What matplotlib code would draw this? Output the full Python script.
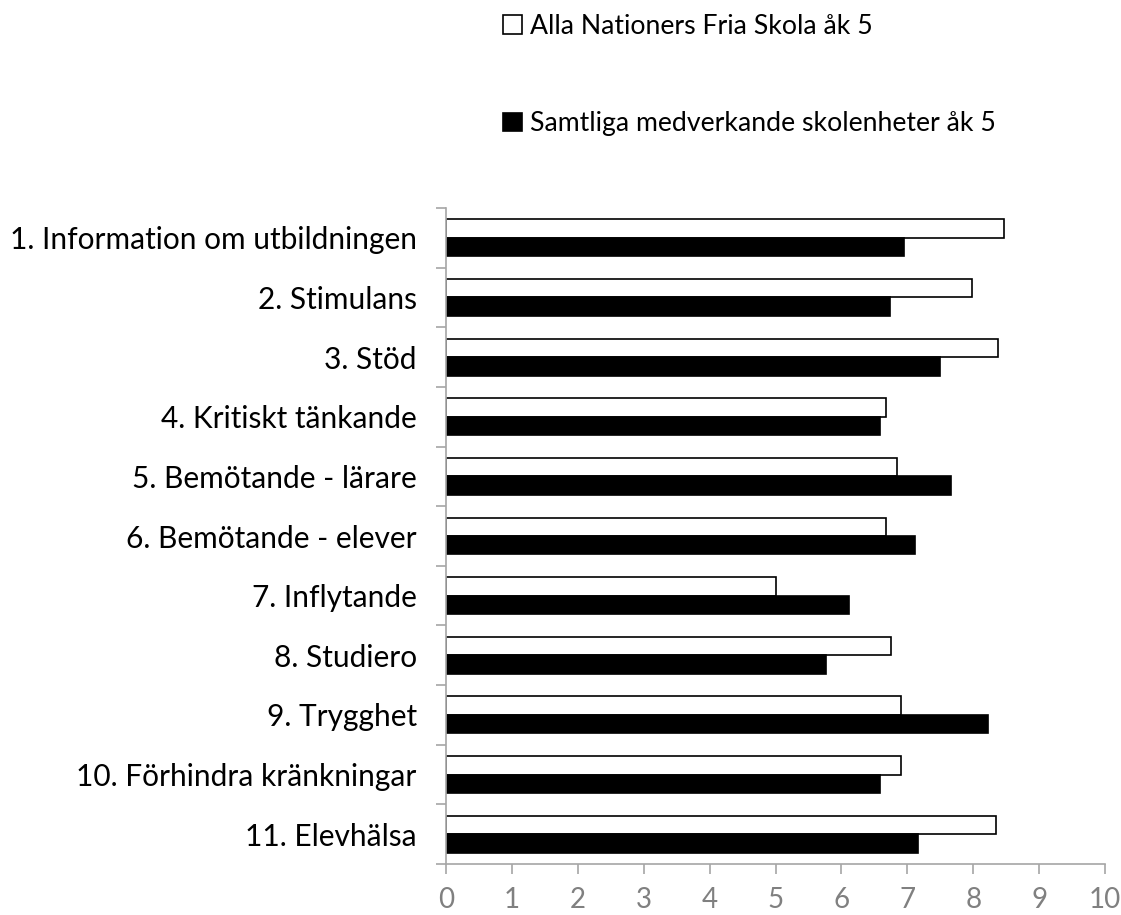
import matplotlib
matplotlib.use("Agg")
import matplotlib.pyplot as plt
import numpy as np

categories = [
    "1. Information om utbildningen",
    "2. Stimulans",
    "3. Stöd",
    "4. Kritiskt tänkande",
    "5. Bemötande - lärare",
    "6. Bemötande - elever",
    "7. Inflytande",
    "8. Studiero",
    "9. Trygghet",
    "10. Förhindra kränkningar",
    "11. Elevhälsa",
]
school = [8.46, 7.98, 8.37, 6.67, 6.85, 6.67, 5.01, 6.76, 6.91, 6.91, 8.34]
all_units = [6.95, 6.74, 7.50, 6.59, 7.66, 7.11, 6.11, 5.77, 8.22, 6.59, 7.16]
series_labels = ["Alla Nationers Fria Skola åk 5", "Samtliga medverkande skolenheter åk 5"]
xticks = list(range(0, 11))

plt.rcParams['font.family'] = ['Lato', 'DejaVu Sans']

fig = plt.figure(figsize=(11.21, 9.15), dpi=100)
ax = fig.add_axes([446/1121, (915-864)/915, (1105-446)/1121, (864-208)/915])

y = np.arange(len(categories))
h = 0.31
b1 = ax.barh(y - h/2, school, height=h, color="white", edgecolor="black", linewidth=1.2, label=series_labels[0])
b2 = ax.barh(y + h/2, all_units, height=h, color="black", edgecolor="black", linewidth=1.2, label=series_labels[1])

ax.set_xlim(0, 10)
ax.set_ylim(len(categories) - 0.5, -0.5)
ax.set_xticks(xticks)
ax.set_xticklabels([str(t) for t in xticks], color="#808080", fontsize=20)
ax.set_yticks(y)
ax.set_yticklabels(categories, fontsize=21.5, color="black")
ax.set_yticks(np.arange(-0.5, len(categories)), minor=True)
ax.tick_params(axis="y", which="major", length=0, pad=21)
ax.tick_params(axis="y", which="minor", length=7.5, color="#a6a6a6", width=1.2)
ax.tick_params(axis="x", which="major", length=7.5, color="#a6a6a6", width=1.2, pad=9)
for s in ["top", "right"]:
    ax.spines[s].set_visible(False)
for s in ["left", "bottom"]:
    ax.spines[s].set_color("#a6a6a6")
    ax.spines[s].set_linewidth(1.2)

fig.legend(handles=[b1, b2], labels=series_labels, loc="upper left",
           bbox_to_anchor=(503/1121, 1 - 14/915), frameon=False, fontsize=19.2,
           handlelength=0.7, handleheight=0.7, handletextpad=0.3, labelspacing=2.71,
           borderaxespad=0, borderpad=0)

fig.savefig("out.png", dpi=100)
